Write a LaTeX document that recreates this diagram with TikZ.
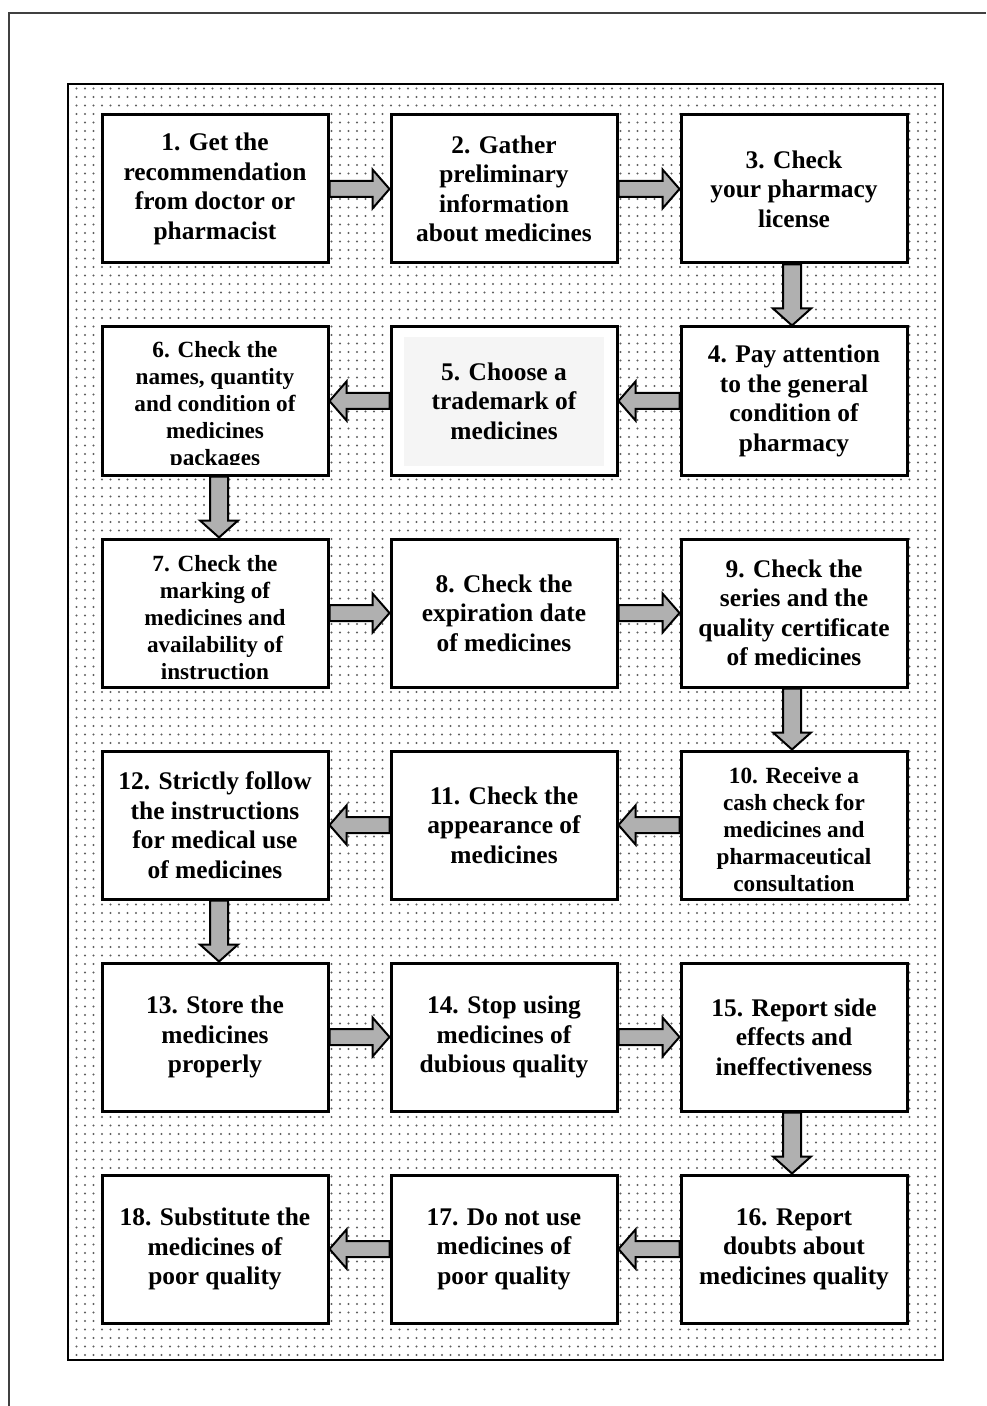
\documentclass[tikz,border=0pt]{standalone}
\usepackage{fontspec}
\setmainfont{Liberation Serif}
\usetikzlibrary{calc,patterns.meta}
\definecolor{arrowgray}{RGB}{176,176,176}
\definecolor{dotgray}{RGB}{95,95,95}
\definecolor{innergray}{RGB}{245,245,245}
\newcommand\rarrow[2]{\draw[blockarrow] ($(#1.east)+(0,-8)$) -- ($(#2.west)+(-17,-8)$) -- ($(#2.west)+(-17,-19.5)$) -- (#2.west) -- ($(#2.west)+(-17,19.5)$) -- ($(#2.west)+(-17,8)$) -- ($(#1.east)+(0,8)$) -- cycle;}
\newcommand\larrow[2]{\draw[blockarrow] ($(#1.west)+(0,-8)$) -- ($(#2.east)+(17,-8)$) -- ($(#2.east)+(17,-19.5)$) -- (#2.east) -- ($(#2.east)+(17,19.5)$) -- ($(#2.east)+(17,8)$) -- ($(#1.west)+(0,8)$) -- cycle;}
\newcommand\darrow[3]{\draw[blockarrow] ($(#1.south)+({#3-9},0)$) -- ($(#2.north)+({#3-9},-17)$) -- ($(#2.north)+({#3-19},-17)$) -- ($(#2.north)+(#3,0)$) -- ($(#2.north)+({#3+19},-17)$) -- ($(#2.north)+({#3+9},-17)$) -- ($(#1.south)+({#3+9},0)$) -- cycle;}
\newcommand\toppad{\rule{0pt}{13pt}}
\begin{document}
\begin{tikzpicture}[x=0.5pt,y=-0.5pt,
  box/.style={draw=black, line width=1.5pt, fill=white, minimum width=113pt, minimum height=74pt,
    inner sep=2pt, align=center, font=\fontsize{12.7}{14.75}\selectfont\bfseries},
  smallbox/.style={box, font=\fontsize{11.6}{13.5}\selectfont\bfseries},
  blockarrow/.style={draw=black, line width=1pt, fill=arrowgray, line join=miter},
  frame/.style={draw=black, line width=1pt, pattern={Dots[distance=4.25pt,radius=0.6pt]}, pattern color=dotgray},
  outerline/.style={draw=black!75, line width=0.8pt}]
\useasboundingbox (0,0) rectangle (986,1406);
\draw[outerline] (9,1406) -- (9,13) -- (986,13);
\path[frame] (68,84) rectangle (943,1360);
% row 1
\node[box] (n1) at (215,189) {1. Get the\\recommendation\\from doctor or\\pharmacist};
\node[box] (n2) at (504,189) {2. Gather\\preliminary\\information\\about medicines};
\node[box] (n3) at (794,189) {3. Check\\your pharmacy\\license};
% row 2
\node[box] (n4) at (794,401) {4. Pay attention\\to the general\\condition of\\pharmacy};
\node[box, path picture={\fill[innergray] ($(path picture bounding box.south west)+(13,-9)$) rectangle ($(path picture bounding box.north east)+(-13,10)$);}] (n5) at (504,401) {5. Choose a\\trademark of\\medicines};
\node[smallbox] (n6) at (215,401) {\toppad 6. Check the\\names, quantity\\and condition of\\medicines\\packages};
\fill[white] (104,465) rectangle (326.5,473.5);
% row 3
\node[smallbox] (n7) at (215,613) {\toppad 7. Check the\\marking of\\medicines and\\availability of\\instruction};
\node[box] (n8) at (504,613) {8. Check the\\expiration date\\of medicines};
\node[box] (n9) at (794,613) {9. Check the\\series and the\\quality certificate\\of medicines};
% row 4
\node[smallbox] (n10) at (794,825) {\toppad 10. Receive a\\cash check for\\medicines and\\pharmaceutical\\consultation};
\node[box] (n11) at (504,825) {11. Check the\\appearance of\\medicines};
\node[box] (n12) at (215,825) {12. Strictly follow\\the instructions\\for medical use\\of medicines};
% row 5
\node[box] (n13) at (215,1037) {13. Store the\\medicines\\properly};
\node[box] (n14) at (504,1037) {14. Stop using\\medicines of\\dubious quality};
\node[box] (n15) at (794,1037) {15. Report side\\effects and\\ineffectiveness};
% row 6
\node[box] (n16) at (794,1249) {16. Report\\doubts about\\medicines quality};
\node[box] (n17) at (504,1249) {17. Do not use\\medicines of\\poor quality};
\node[box] (n18) at (215,1249) {18. Substitute the\\medicines of\\poor quality};
% arrows
\rarrow{n1}{n2}
\rarrow{n2}{n3}
\darrow{n3}{n4}{-2}
\larrow{n4}{n5}
\larrow{n5}{n6}
\darrow{n6}{n7}{4}
\rarrow{n7}{n8}
\rarrow{n8}{n9}
\darrow{n9}{n10}{-2}
\larrow{n10}{n11}
\larrow{n11}{n12}
\darrow{n12}{n13}{4}
\rarrow{n13}{n14}
\rarrow{n14}{n15}
\darrow{n15}{n16}{-2}
\larrow{n16}{n17}
\larrow{n17}{n18}
\end{tikzpicture}
\end{document}
